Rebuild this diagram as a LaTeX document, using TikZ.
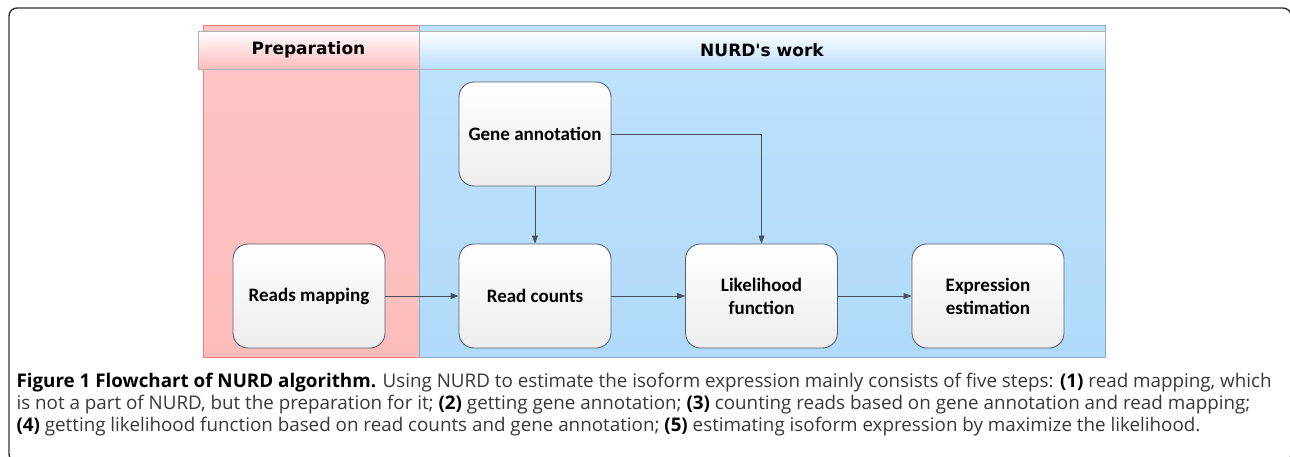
\documentclass[tikz,border=0pt]{standalone}
\usepackage{fontspec}
\setmainfont{Open Sans}
\newfontfamily\boxfont{Carlito}
\newfontfamily\headfont{DejaVu Sans}
\usepackage{tikz}
\usepackage{xcolor}
\usetikzlibrary{positioning, arrows.meta, shapes}

\definecolor{laneRed}{RGB}{253,188,188}
\definecolor{laneBlue}{RGB}{176,218,250}
\definecolor{edgeGrey}{RGB}{70,80,90}
\definecolor{capGrey}{RGB}{55,55,55}

\begin{document}
\begin{tikzpicture}[
            x=1pt, y=-1pt,
            step box/.style={rectangle, rounded corners=15pt, draw=edgeGrey!90, line width=0.9pt,
                top color=white, bottom color=black!7, minimum width=152pt, minimum height=104pt,
                align=center, font=\boxfont\fontsize{19}{23}\selectfont\bfseries},
            head box/.style={rectangle, draw=black!30, line width=0.6pt, minimum height=38pt,
                font=\headfont\fontsize{17}{20}\selectfont\bfseries},
            flow/.style={draw=edgeGrey, line width=0.9pt, -{Triangle[length=8pt, width=6pt]}},
        ]
            \useasboundingbox (0,0) rectangle (1290,456);
            \clip (0,0) rectangle (1290,456);
            % outer frame
            \draw[black!80, line width=1.4pt, rounded corners=8pt] (9,8) rectangle (1291,462);

            % lanes
            \shade[top color=laneRed!85, bottom color=laneRed] (203,25) rectangle (419,357);
            \draw[red!35!laneRed, line width=0.7pt] (203,25) rectangle (419,357);
            \shade[top color=laneBlue!80, bottom color=laneBlue] (419,25) rectangle (1105,357);
            \draw[laneBlue!80!black, line width=0.7pt] (419,25) rectangle (1105,357);

            % lane headers
            \node[head box, top color=white, bottom color=laneRed, minimum width=221pt] (prep) at (308.5,50) {Preparation};
            \node[head box, top color=white, bottom color=laneBlue!90, minimum width=686pt] (work) at (762,50) {NURD's work};

            % steps
            \node[step box] (gene) at (535,134) {Gene annotation};
            \node[step box] (mapping) at (309,296) {Reads mapping};
            \node[step box] (counts) at (535,296) {Read counts};
            \node[step box] (likeli) at (761.5,296) {Likelihood\\function};
            \node[step box] (expr) at (988,296) {Expression\\estimation};

            % connectors
            \draw[flow] (mapping) -- (counts);
            \draw[flow] (counts) -- (likeli);
            \draw[flow] (likeli) -- (expr);
            \draw[flow] (gene) -- (counts);
            \draw[flow] (gene.east) -| (likeli.north);

            % caption
            \node[anchor=west, align=left, text=capGrey, font=\fontsize{18.8}{22}\selectfont] (caption) at (13,405)
                {{\color{black}\bfseries Figure 1 Flowchart of NURD algorithm.} Using NURD to estimate the isoform expression mainly consists of five steps: {\color{black}\bfseries(1)} read mapping, which\\
                is not a part of NURD, but the preparation for it; {\color{black}\bfseries(2)} getting gene annotation; {\color{black}\bfseries(3)} counting reads based on gene annotation and read mapping;\\
                {\color{black}\bfseries(4)} getting likelihood function based on read counts and gene annotation; {\color{black}\bfseries(5)} estimating isoform expression by maximize the likelihood.};
        \end{tikzpicture}
\end{document}
